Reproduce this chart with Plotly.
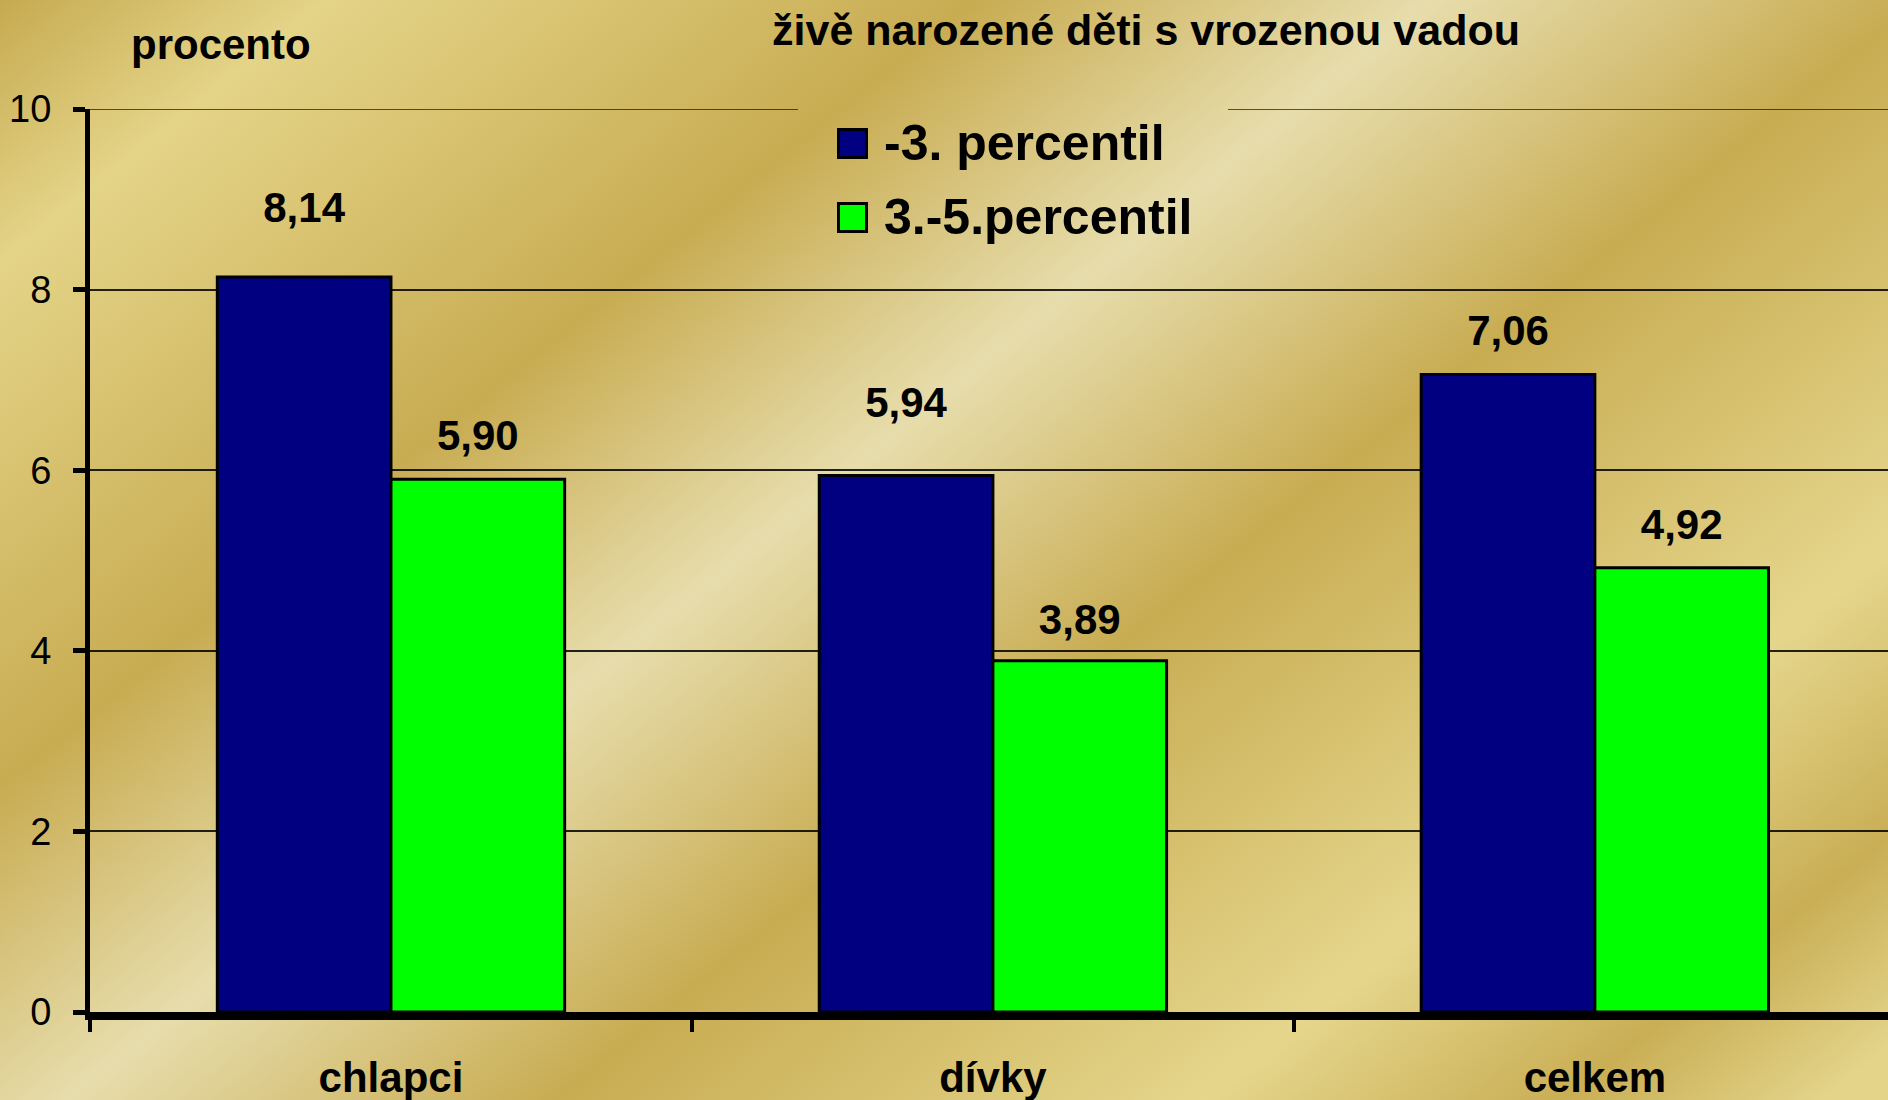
import base64
import plotly.graph_objects as go

# ---- data ----
categories = ["chlapci", "dívky", "celkem"]
series_names = ["-3. percentil", "3.-5.percentil"]
values_p3 = [8.14, 5.94, 7.06]
values_p35 = [5.90, 3.89, 4.92]
y_tick_vals = [0, 2, 4, 6, 8, 10]
title_text = "živě narozené děti s vrozenou vadou"
y_axis_label = "procento"

# ---- style ----
W, H = 1888, 1100
ML, MR, MT, MB = 90, 0, 109, 88
PW, PH = W - ML - MR, H - MT - MB
FONT = "Arial, Liberation Sans, sans-serif"
colors = ["#000080", "#00FF00"]
BARGAP = 0.423
GRID_COLOR = "rgba(0,0,0,0.85)"
# gap (invisible marker size) between each value label and its bar top
label_pads = [[69, 76, 28], [28, 24, 28]]
# horizontal span (pixels) of the legend box that hides the top grid line
legend_gap_px = (798, 1228)

# gold metallic background as an SVG gradient image
stops = [
    (0.00, "#C6AA50"), (0.10, "#E4D488"), (0.30, "#C8AC52"), (0.44, "#E7DDAC"),
    (0.59, "#C8AC52"), (0.79, "#E5D68C"), (0.90, "#C9AE55"), (0.98, "#E3D48A"),
    (1.00, "#E3D48A"),
]
stop_xml = "".join(f'<stop offset="{o}" stop-color="{c}"/>' for o, c in stops)
svg = (
    f'<svg xmlns="http://www.w3.org/2000/svg" width="{W}" height="{H}" viewBox="0 0 {W} {H}">'
    f'<defs><linearGradient id="g" gradientUnits="userSpaceOnUse" x1="0" y1="0" x2="1281" y2="1589">'
    f'{stop_xml}</linearGradient></defs>'
    f'<rect x="0" y="0" width="{W}" height="{H}" fill="url(#g)"/></svg>'
)
bg_uri = "data:image/svg+xml;base64," + base64.b64encode(svg.encode()).decode()


def fmt(v):
    return f"{v:.2f}".replace(".", ",")


fig = go.Figure()
all_values = [values_p3, values_p35]
for i, (name, vals) in enumerate(zip(series_names, all_values)):
    fig.add_trace(go.Bar(
        x=categories, y=vals, name=name, offsetgroup=str(i),
        marker=dict(color=colors[i], line=dict(color="black", width=3)),
        showlegend=False, hoverinfo="skip",
    ))
for i, (name, vals) in enumerate(zip(series_names, all_values)):
    fig.add_trace(go.Scatter(
        x=categories, y=vals, mode="text+markers", offsetgroup=str(i),
        text=[fmt(v) for v in vals], textposition="top center",
        textfont=dict(family=FONT, size=42, color="black", weight="bold"),
        marker=dict(size=label_pads[i], opacity=0),
        showlegend=False, hoverinfo="skip", cliponaxis=False,
    ))

annotations = [
    dict(text=y_axis_label, xref="paper", yref="paper",
         x=(129 - ML) / PW, y=1 + (MT - 45) / PH, xanchor="left", yanchor="middle",
         showarrow=False, font=dict(family=FONT, size=42, color="black", weight="bold")),
]
# custom legend
legend_rows = [143, 217]
for i, name in enumerate(series_names):
    yy = 1 - (legend_rows[i] - MT) / PH
    annotations.append(dict(
        text=" ", xref="paper", yref="paper", x=(852 - ML) / PW, y=yy,
        xanchor="center", yanchor="middle", showarrow=False,
        width=25, height=25, bgcolor=colors[i], bordercolor="black", borderwidth=3,
        borderpad=0, font=dict(size=4)))
    annotations.append(dict(
        text=name, xref="paper", yref="paper", x=(882 - ML) / PW, y=yy,
        xanchor="left", yanchor="middle", showarrow=False,
        font=dict(family=FONT, size=50, color="black", weight="bold")))

# top grid line (at the range end), interrupted by the legend box
y_top = max(y_tick_vals)
gx0, gx1 = [(p - ML) / PW for p in legend_gap_px]
shapes = [
    dict(type="line", xref="paper", yref="y", x0=a, x1=b, y0=y_top, y1=y_top,
         line=dict(color=GRID_COLOR, width=1.5), layer="below")
    for a, b in [(0, gx0), (gx1, 1)]
]

fig.update_layout(
    width=W, height=H,
    margin=dict(l=ML, r=MR, t=MT, b=MB, autoexpand=False),
    paper_bgcolor="#D4BC6A", plot_bgcolor="rgba(0,0,0,0)",
    barmode="group", bargap=BARGAP, bargroupgap=0,
    scattermode="group", scattergap=BARGAP,
    separators=", ",
    showlegend=False,
    title=dict(text=title_text, xref="paper", x=(1146 - ML) / PW, xanchor="center",
               y=1 - 30 / H, yanchor="middle",
               font=dict(family=FONT, size=43, color="black", weight="bold")),
    images=[dict(source=bg_uri, xref="paper", yref="paper",
                 x=-ML / PW, y=1 + MT / PH, sizex=W / PW, sizey=H / PH,
                 xanchor="left", yanchor="top", sizing="stretch", layer="below")],
    annotations=annotations,
    shapes=shapes,
    font=dict(family=FONT, color="black"),
)
fig.update_xaxes(
    type="category", range=[-0.5, 2.487], showline=True, linecolor="black", linewidth=8,
    ticks="outside", tickson="boundaries", ticklen=12, tickwidth=4, tickcolor="black",
    tickfont=dict(family=FONT, size=42, color="black", weight="bold"),
    ticklabelstandoff=22, showgrid=False, automargin=False,
)
fig.update_yaxes(
    range=[0, 10], tickvals=y_tick_vals, showline=True, linecolor="black", linewidth=5,
    ticks="outside", ticklen=12, tickwidth=5, tickcolor="black",
    tickfont=dict(family=FONT, size=38, color="black"),
    ticklabelstandoff=14,
    showgrid=True, gridcolor=GRID_COLOR, gridwidth=1.5,
    zeroline=False, automargin=False,
)

fig.write_html(
    "out.html",
    config={"displayModeBar": False},
    post_script="document.body.style.margin='0';document.body.style.overflow='hidden';",
)
